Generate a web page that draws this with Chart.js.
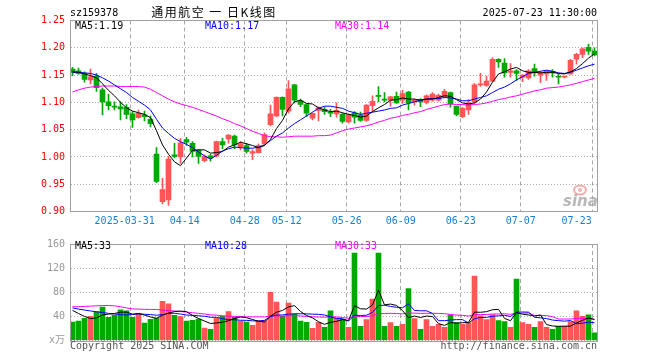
<!DOCTYPE html>
<html><head><meta charset="utf-8">
<script src="https://cdn.jsdelivr.net/npm/chart.js@4.4.1/dist/chart.umd.min.js"></script>
<style>
html,body{margin:0;padding:0;background:#fff;}
#wrap{position:relative;width:660px;height:360px;overflow:hidden;}
canvas{position:absolute;left:0;}
#c1{top:0;} #c2{top:232px;}
</style></head><body>
<div id="wrap"><canvas id="c1" width="660" height="232"></canvas><canvas id="c2" width="660" height="128"></canvas></div>
<script>
const opens = [1.161,1.158,1.153,1.141,1.148,1.123,1.101,1.093,1.092,1.091,
1.079,1.072,1.077,1.069,1.005,0.918,0.921,1.004,1.000,1.032,
1.025,1.012,0.993,1.002,1.002,1.028,1.033,1.038,1.019,1.021,
1.007,1.008,1.024,1.059,1.075,1.109,1.084,1.132,1.103,1.096,
1.071,1.085,1.087,1.081,1.079,1.078,1.064,1.081,1.077,1.067,
1.094,1.113,1.106,1.104,1.111,1.104,1.119,1.101,1.105,1.100,
1.104,1.104,1.111,1.118,1.093,1.074,1.086,1.101,1.132,1.131,
1.139,1.179,1.172,1.155,1.158,1.146,1.145,1.162,1.150,1.152,
1.157,1.147,1.146,1.152,1.179,1.188,1.201,1.194];
const highs = [1.164,1.163,1.156,1.161,1.153,1.126,1.115,1.101,1.101,1.096,
1.083,1.086,1.084,1.075,1.017,0.961,1.001,1.025,1.034,1.036,
1.028,1.014,1.004,1.005,1.029,1.034,1.041,1.040,1.028,1.025,
1.013,1.024,1.044,1.095,1.110,1.110,1.140,1.133,1.106,1.097,
1.081,1.092,1.092,1.087,1.099,1.080,1.079,1.083,1.082,1.096,
1.112,1.129,1.118,1.111,1.119,1.122,1.120,1.106,1.107,1.114,
1.118,1.115,1.124,1.119,1.093,1.091,1.105,1.135,1.153,1.148,
1.182,1.180,1.180,1.171,1.160,1.151,1.160,1.170,1.157,1.158,
1.160,1.152,1.148,1.179,1.190,1.200,1.207,1.200];
const lows = [1.149,1.151,1.137,1.134,1.120,1.077,1.086,1.086,1.068,1.070,
1.054,1.071,1.066,1.055,0.953,0.914,0.911,0.998,0.988,1.021,
1.000,0.988,0.991,0.992,1.000,1.015,1.025,1.015,1.013,1.007,
0.995,1.007,1.022,1.057,1.074,1.075,1.080,1.099,1.092,1.074,
1.068,1.066,1.078,1.074,1.073,1.062,1.062,1.062,1.065,1.065,
1.083,1.101,1.101,1.093,1.098,1.098,1.086,1.095,1.092,1.097,
1.102,1.102,1.108,1.091,1.075,1.072,1.078,1.098,1.129,1.129,
1.138,1.164,1.146,1.146,1.140,1.138,1.142,1.148,1.136,1.140,
1.146,1.134,1.145,1.151,1.170,1.182,1.188,1.185];
const closes = [1.155,1.153,1.142,1.147,1.127,1.101,1.094,1.091,1.088,1.078,
1.068,1.080,1.074,1.061,0.955,0.940,0.996,1.001,1.026,1.027,
1.010,1.001,1.001,0.998,1.028,1.022,1.040,1.022,1.024,1.010,
1.010,1.021,1.041,1.079,1.109,1.087,1.125,1.104,1.096,1.080,
1.080,1.090,1.083,1.080,1.085,1.065,1.077,1.073,1.067,1.095,
1.102,1.111,1.104,1.110,1.099,1.116,1.099,1.104,1.101,1.112,
1.115,1.113,1.120,1.097,1.078,1.089,1.099,1.132,1.134,1.139,
1.179,1.174,1.154,1.158,1.153,1.150,1.158,1.154,1.154,1.157,
1.154,1.146,1.147,1.177,1.188,1.198,1.194,1.187];
const volumes = [30.4,32,36.8,40,48,55.5,38.4,42,50.7,49,
38.4,43.7,28.8,35.2,37.3,65,60.8,41.6,39.5,32,
33.6,35.7,20.8,18.7,36.8,40,48,38.4,32,30.4,
25,33,33,80,63.5,40,62,43.7,32,30,
20,30,22,49,37.3,35.2,21.9,145,23.5,34.7,
68.8,145,23.5,29.9,23.5,26.7,85.9,36.3,18.7,34.7,
23.5,26.7,21.9,42.1,29.9,26.7,29.9,106.7,41,34.7,
42.7,33,31.5,21.9,101.9,29.9,26.7,21.9,31.5,21.9,
18.7,23.5,23.5,31.5,49,40,42.7,12.8];
const ma5 = [1.156,1.155,1.152,1.149,1.145,1.134,1.122,1.112,1.100,1.090,
1.084,1.081,1.078,1.072,1.048,1.022,1.005,0.991,0.984,0.998,
1.012,1.013,1.013,1.007,1.008,1.010,1.018,1.022,1.027,1.024,
1.021,1.017,1.021,1.032,1.052,1.067,1.088,1.101,1.104,1.098,
1.097,1.090,1.086,1.083,1.084,1.081,1.078,1.076,1.073,1.075,
1.083,1.090,1.096,1.104,1.105,1.108,1.106,1.106,1.104,1.106,
1.106,1.109,1.112,1.111,1.105,1.099,1.097,1.099,1.106,1.119,
1.137,1.152,1.156,1.161,1.164,1.158,1.155,1.155,1.154,1.155,
1.155,1.153,1.152,1.156,1.162,1.171,1.181,1.189];
const ma10 = [1.155,1.155,1.154,1.153,1.150,1.145,1.139,1.132,1.125,1.118,
1.109,1.102,1.095,1.086,1.069,1.053,1.043,1.034,1.028,1.023,
1.017,1.009,1.002,0.996,1.003,1.011,1.015,1.018,1.017,1.016,
1.016,1.018,1.022,1.030,1.038,1.044,1.053,1.061,1.068,1.075,
1.082,1.089,1.093,1.093,1.091,1.089,1.084,1.081,1.078,1.080,
1.082,1.084,1.086,1.089,1.090,1.095,1.098,1.101,1.104,1.106,
1.107,1.107,1.109,1.108,1.106,1.103,1.103,1.106,1.109,1.112,
1.118,1.124,1.128,1.134,1.141,1.147,1.153,1.155,1.157,1.159,
1.157,1.154,1.153,1.155,1.159,1.163,1.167,1.170];
const ma30 = [1.119,1.123,1.126,1.128,1.129,1.130,1.130,1.130,1.129,1.129,
1.129,1.129,1.128,1.124,1.118,1.112,1.106,1.101,1.097,1.094,
1.091,1.087,1.083,1.079,1.075,1.070,1.066,1.061,1.057,1.052,
1.047,1.043,1.039,1.037,1.037,1.036,1.037,1.038,1.038,1.038,
1.038,1.039,1.039,1.040,1.044,1.048,1.051,1.053,1.055,1.057,
1.060,1.064,1.067,1.071,1.073,1.076,1.078,1.081,1.083,1.087,
1.090,1.093,1.096,1.097,1.096,1.096,1.095,1.096,1.097,1.099,
1.102,1.105,1.107,1.110,1.112,1.115,1.118,1.121,1.123,1.126,
1.127,1.128,1.130,1.132,1.135,1.138,1.141,1.144];
const volMa5 = [50.0,44.8,40.0,36.3,37.4,42.5,43.7,44.8,46.9,47.1,
43.7,44.8,42.1,39.0,36.7,42.0,45.4,48.0,48.8,47.8,
41.5,36.5,32.3,28.2,29.1,30.4,32.9,36.4,39.0,37.8,
34.8,31.8,30.7,40.3,46.9,49.9,55.7,57.8,48.2,41.5,
37.5,31.1,26.8,30.2,31.7,34.7,33.1,57.7,52.6,52.1,
58.8,83.4,59.1,60.4,58.1,49.7,37.9,40.5,38.2,40.5,
39.8,28.0,25.1,29.8,28.8,29.5,30.1,47.1,46.8,47.8,
51.0,51.6,36.6,32.8,46.2,43.6,42.4,40.5,42.4,26.4,
24.1,23.5,23.8,23.8,29.2,33.5,37.3,35.2];
const volMa10 = [54.0,52.0,50.5,49.0,47.5,46.5,45.0,44.0,43.0,42.3,
43.1,44.3,43.5,43.0,41.9,42.9,45.1,45.1,43.9,42.2,
41.8,41.0,40.2,38.5,38.5,36.0,34.7,34.4,33.6,33.4,
32.6,32.3,33.5,39.7,42.3,42.3,43.7,44.3,44.3,44.2,
43.7,43.4,42.3,39.2,36.6,36.1,32.1,42.2,41.4,41.9,
46.7,58.2,58.4,56.5,55.1,54.3,60.7,49.8,49.3,49.3,
44.8,32.9,32.8,34.0,34.6,34.6,29.0,36.1,38.3,38.3,
40.2,40.9,41.8,39.8,47.0,47.3,47.0,38.5,37.6,36.3,
33.9,32.9,32.1,33.1,27.8,28.8,30.4,29.5];
const volMa30 = [56.0,56.0,56.5,57.0,57.5,58.0,58.0,57.5,56.0,54.0,
52.5,52.0,51.7,51.5,51.5,50.5,49.5,49.0,48.0,47.0,
46.0,45.0,44.0,42.5,42.0,41.0,40.5,40.0,39.5,39.3,
39.1,39.2,39.0,40.4,40.9,40.4,41.2,41.2,40.6,40.0,
39.4,38.9,38.7,39.1,39.1,38.1,36.8,40.3,39.8,39.8,
41.0,44.7,44.7,45.1,44.7,44.2,45.5,45.4,45.0,45.1,
45.1,44.9,44.5,43.2,42.1,41.7,40.6,42.7,43.0,43.2,
43.9,44.0,44.3,43.4,45.6,45.4,45.6,41.5,41.7,41.3,
39.6,35.6,35.6,35.6,36.5,36.9,35.5,34.7];
const priceTicks = [0.90,0.95,1.00,1.05,1.10,1.15,1.20,1.25];
const volTicks = [0,40,80,120,160];
const dateLabels = ['2025-03-31','04-14','04-28','05-12','05-26','06-09','06-23','07-07','07-23'];
const dateIndex = [10,19,29,36,46,55,65,75,87];
const priceLegend = ['MA5:1.19','MA10:1.17','MA30:1.14'];
const volLegend = ['MA5:33','MA10:28','MA30:33'];
const titleText = '通用航空 一 日K线图';
const codeText = 'sz159378';
const timeText = '2025-07-23 11:30:00';

const RED = '#ff5555', GREEN = '#00a800';
const MONO = '"DejaVu Sans Mono", monospace';
Chart.defaults.font.family = MONO;
Chart.defaults.font.size = 10;
Chart.defaults.animation = false;

const idx = closes.map((_, i) => i);
const colors = idx.map(i => closes[i] >= opens[i] ? RED : GREEN);
const N = closes.length;
const xMin = -0.25, xMax = (N - 1) + 2.5 / 6;

function xScaleOpts() {
  return {
    type: 'linear', min: xMin, max: xMax, offset: false,
    afterFit: s => { s.height = 0; },
    afterBuildTicks: s => { s.ticks = dateIndex.map(i => ({ value: i - 0.3 })); },
    ticks: { display: false },
    grid: { color: '#a8a8a8', lineWidth: 1, drawTicks: false, offset: false },
    border: { display: false, dash: [4, 3] }
  };
}
function lineDs(arr, color) {
  return { type: 'line', data: idx.map(i => ({ x: i, y: arr[i] })), borderColor: color, borderWidth: 1,
    pointRadius: 0, tension: 0, fill: false, order: 0 };
}
function frame(chart) {
  const a = chart.chartArea, ctx = chart.ctx;
  ctx.save();
  ctx.strokeStyle = '#a0a0a0'; ctx.lineWidth = 1;
  ctx.strokeRect(Math.floor(a.left) - 0.5, Math.floor(a.top) + 0.5, Math.round(a.right - a.left) + 1, Math.round(a.bottom - a.top));
  ctx.restore();
}
function legend(ctx, texts, y) {
  const xs = [75, 205, 335], cols = ['#000000', '#0000ff', '#ff00ff'];
  ctx.font = '10px ' + MONO; ctx.textBaseline = 'middle'; ctx.textAlign = 'left';
  texts.forEach((t, k) => { ctx.fillStyle = cols[k]; ctx.fillText(t, xs[k], y); });
}

const topPlugin = {
  id: 'topDeco',
  afterDraw(chart) {
    const ctx = chart.ctx;
    frame(chart);
    ctx.save();
    ctx.font = '10px ' + MONO; ctx.textBaseline = 'middle';
    ctx.fillStyle = '#000'; ctx.textAlign = 'left'; ctx.fillText(codeText, 70, 13);
    ctx.textAlign = 'right'; ctx.fillText(timeText, 597, 13);
    ctx.font = '12px "Noto Sans CJK SC", sans-serif'; ctx.textAlign = 'center';
    try { ctx.letterSpacing = '1.5px'; } catch (e) {}
    ctx.fillText(titleText, 214, 12.5);
    try { ctx.letterSpacing = '0px'; } catch (e) {}
    legend(ctx, priceLegend, 26.5);
    const xs = chart.scales.x;
    ctx.font = '10px ' + MONO; ctx.fillStyle = '#1a7fd4'; ctx.textBaseline = 'middle';
    dateIndex.forEach((di, k) => {
      const px = xs.getPixelForValue(di - 0.3);
      if (k === 0) { ctx.textAlign = 'center'; ctx.fillText(dateLabels[k], px - 6, 221); }
      else if (k === dateIndex.length - 1) { ctx.textAlign = 'right'; ctx.fillText(dateLabels[k], px - 1, 221); }
      else { ctx.textAlign = 'center'; ctx.fillText(dateLabels[k], px, 221); }
    });
    ctx.strokeStyle = 'rgba(240,140,140,0.7)'; ctx.lineWidth = 2;
    ctx.beginPath(); ctx.ellipse(580, 190, 6, 4.5, 0, 0, Math.PI * 2); ctx.stroke();
    ctx.fillStyle = 'rgba(240,140,140,0.7)'; ctx.beginPath(); ctx.arc(580, 190, 2, 0, Math.PI * 2); ctx.fill();
    ctx.font = 'italic bold 15px "DejaVu Sans", sans-serif'; ctx.fillStyle = 'rgba(170,170,170,0.85)';
    ctx.textAlign = 'left'; ctx.textBaseline = 'alphabetic'; ctx.fillText('sina', 563, 206);
    ctx.restore();
  }
};

new Chart(document.getElementById('c1'), {
  type: 'bar',
  data: { datasets: [
    lineDs(ma5, '#000000'), lineDs(ma10, '#0000ff'), lineDs(ma30, '#ff00ff'),
    { type: 'bar', data: idx.map(i => ({ x: i, y: [opens[i], closes[i]] })), backgroundColor: colors,
      barThickness: 5, minBarLength: 1, grouped: false, borderWidth: 0, order: 1 },
    { type: 'bar', data: idx.map(i => ({ x: i, y: [lows[i], highs[i]] })), backgroundColor: colors,
      barThickness: 1, grouped: false, borderWidth: 0, order: 2 }
  ] },
  options: {
    responsive: false, devicePixelRatio: 1, animation: false,
    layout: { padding: { left: 0, right: 63, top: 20.5, bottom: 20.5 } },
    plugins: { legend: { display: false }, tooltip: { enabled: false } },
    scales: {
      x: xScaleOpts(),
      y: { type: 'linear', min: 0.90, max: 1.25, position: 'left',
        afterFit: s => { s.width = 71; },
        afterBuildTicks: s => { s.ticks = priceTicks.map(v => ({ value: v })); },
        ticks: { color: '#ff0000', padding: 6, autoSkip: false, callback: v => Number(v).toFixed(2) },
        grid: { color: '#b0b0b0', drawTicks: false },
        border: { display: false, dash: [1, 2] } }
    }
  },
  plugins: [topPlugin]
});

const botPlugin = {
  id: 'botDeco',
  afterDraw(chart) {
    const ctx = chart.ctx;
    frame(chart);
    ctx.save();
    legend(ctx, volLegend, 14);
    ctx.font = '10px ' + MONO; ctx.fillStyle = '#555'; ctx.textBaseline = 'middle';
    ctx.textAlign = 'left'; ctx.fillText('Copyright 2025 SINA.COM', 70, 114);
    ctx.textAlign = 'right'; ctx.fillText('http://finance.sina.com.cn', 597, 114);
    ctx.restore();
  }
};

new Chart(document.getElementById('c2'), {
  type: 'bar',
  data: { datasets: [
    lineDs(volMa5, '#000000'), lineDs(volMa10, '#0000ff'), lineDs(volMa30, '#ff00ff'),
    { type: 'bar', data: idx.map(i => ({ x: i, y: volumes[i] })), backgroundColor: colors,
      barThickness: 5, grouped: false, borderWidth: 0, order: 1 }
  ] },
  options: {
    responsive: false, devicePixelRatio: 1, animation: false,
    layout: { padding: { left: 0, right: 63, top: 8.5, bottom: 19.5 } },
    plugins: { legend: { display: false }, tooltip: { enabled: false } },
    scales: {
      x: xScaleOpts(),
      y: { type: 'linear', min: 0, max: 160, position: 'left',
        afterFit: s => { s.width = 71; },
        afterBuildTicks: s => { s.ticks = volTicks.map(v => ({ value: v })); },
        ticks: { color: '#999999', padding: 6, autoSkip: false,
          font: { family: '"DejaVu Sans Mono", "Noto Sans CJK SC", monospace', size: 10 },
          callback: v => (v === 0 ? 'x万' : String(v)) },
        grid: { color: '#b0b0b0', drawTicks: false },
        border: { display: false, dash: [1, 2] } }
    }
  },
  plugins: [botPlugin]
});
</script>
</body></html>
